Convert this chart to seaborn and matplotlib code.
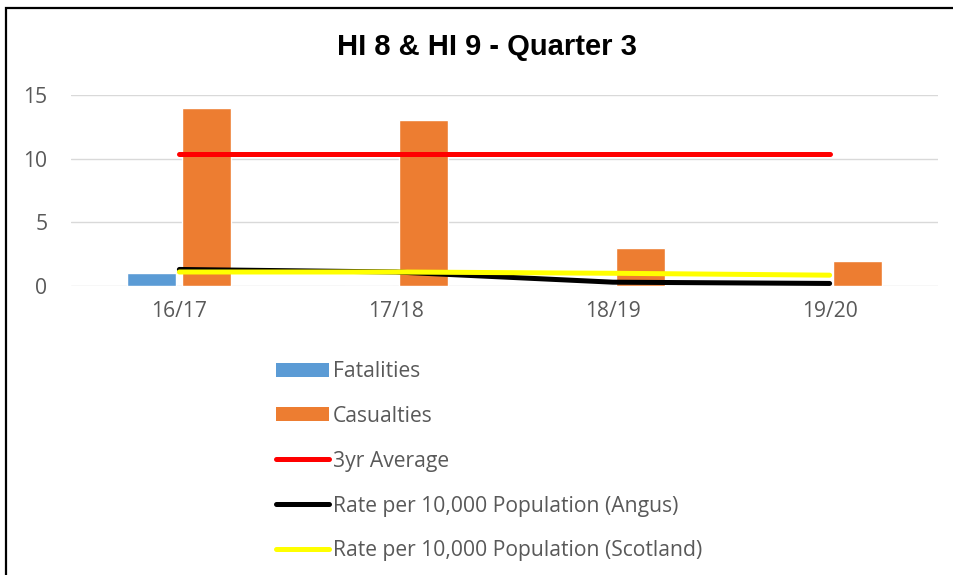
import matplotlib
matplotlib.use("Agg")
import matplotlib.pyplot as plt
import seaborn as sns
import pandas as pd
from matplotlib.patches import Patch, Rectangle
from matplotlib.lines import Line2D

# ---- data ----
categories = ["16/17", "17/18", "18/19", "19/20"]
fatalities = [1, 0, 0, 0]
casualties = [14, 13, 3, 2]
three_yr_avg = [10.33, 10.33, 10.33, 10.33]
rate_angus = [1.3, 1.1, 0.3, 0.2]
rate_scotland = [1.1, 1.1, 1.0, 0.85]
y_ticks = [0, 5, 10, 15]
title = "HI 8 & HI 9 - Quarter 3"

c_fat = "#5B9BD5"
c_cas = "#ED7D31"
c_avg = "#FF0000"
c_angus = "#000000"
c_scot = "#FFFF00"
txt_col = "#595959"

sns.set_theme(style="white")
plt.rcParams["font.family"] = ["Open Sans", "DejaVu Sans"]

fig = plt.figure(figsize=(9.54, 5.75), dpi=100)
ax = fig.add_axes([71 / 954, 1 - 286 / 575, (938 - 71) / 954, (286 - 95) / 575])

bars = pd.DataFrame({
    "Year": categories * 2,
    "Value": fatalities + casualties,
    "Series": ["Fatalities"] * len(categories) + ["Casualties"] * len(categories),
})
sns.barplot(data=bars, x="Year", y="Value", hue="Series", order=categories,
            hue_order=["Fatalities", "Casualties"],
            palette=[c_fat, c_cas], width=0.507, gap=0.11,
            saturation=1, legend=False, ax=ax, zorder=2)

lw = 3.6
for vals, col in [(three_yr_avg, c_avg), (rate_angus, c_angus), (rate_scotland, c_scot)]:
    sns.lineplot(x=categories, y=vals, color=col, linewidth=lw, ax=ax,
                 sort=False, zorder=3, solid_capstyle="round")

fs = 15.2
ax.set_ylim(0, 15)
ax.set_xlim(-0.5, len(categories) - 0.5)
ax.set_yticks(y_ticks)
ax.set_yticklabels([str(t) for t in y_ticks])
ax.yaxis.grid(True, color="#D9D9D9", linewidth=1.0, zorder=0)
ax.xaxis.grid(False)
ax.set_axisbelow(True)
for s in ax.spines.values():
    s.set_visible(False)
ax.tick_params(axis="both", length=0, labelsize=fs, labelcolor=txt_col)
ax.tick_params(axis="y", pad=17)
ax.tick_params(axis="x", pad=11)
ax.set_xlabel("")
ax.set_ylabel("")

fig.text(487 / 954, 1 - 47 / 575, title, ha="center", va="center",
         fontsize=21, fontweight="bold", family=["Liberation Sans", "DejaVu Sans"],
         color="black")

handles = [
    Patch(facecolor=c_fat, edgecolor="none"),
    Patch(facecolor=c_cas, edgecolor="none"),
    Line2D([0], [0], color=c_avg, linewidth=lw, solid_capstyle="round"),
    Line2D([0], [0], color=c_angus, linewidth=lw, solid_capstyle="round"),
    Line2D([0], [0], color=c_scot, linewidth=lw, solid_capstyle="round"),
]
labels = ["Fatalities", "Casualties", "3yr Average",
          "Rate per 10,000 Population (Angus)",
          "Rate per 10,000 Population (Scotland)"]
leg = fig.legend(handles, labels, loc="upper left",
                 bbox_to_anchor=(276 / 954, 1 - 361 / 575),
                 frameon=False, fontsize=fs, handlelength=2.5,
                 handleheight=0.65,
                 handletextpad=0.2, labelspacing=1.13, borderpad=0,
                 borderaxespad=0)
for t in leg.get_texts():
    t.set_color(txt_col)

fig.add_artist(Rectangle((6.5 / 954, -0.1), 1.2, 1 - 8 / 575 + 0.1,
                         transform=fig.transFigure, fill=False,
                         edgecolor="black", linewidth=1.6))

fig.savefig("out.png", dpi=100)
